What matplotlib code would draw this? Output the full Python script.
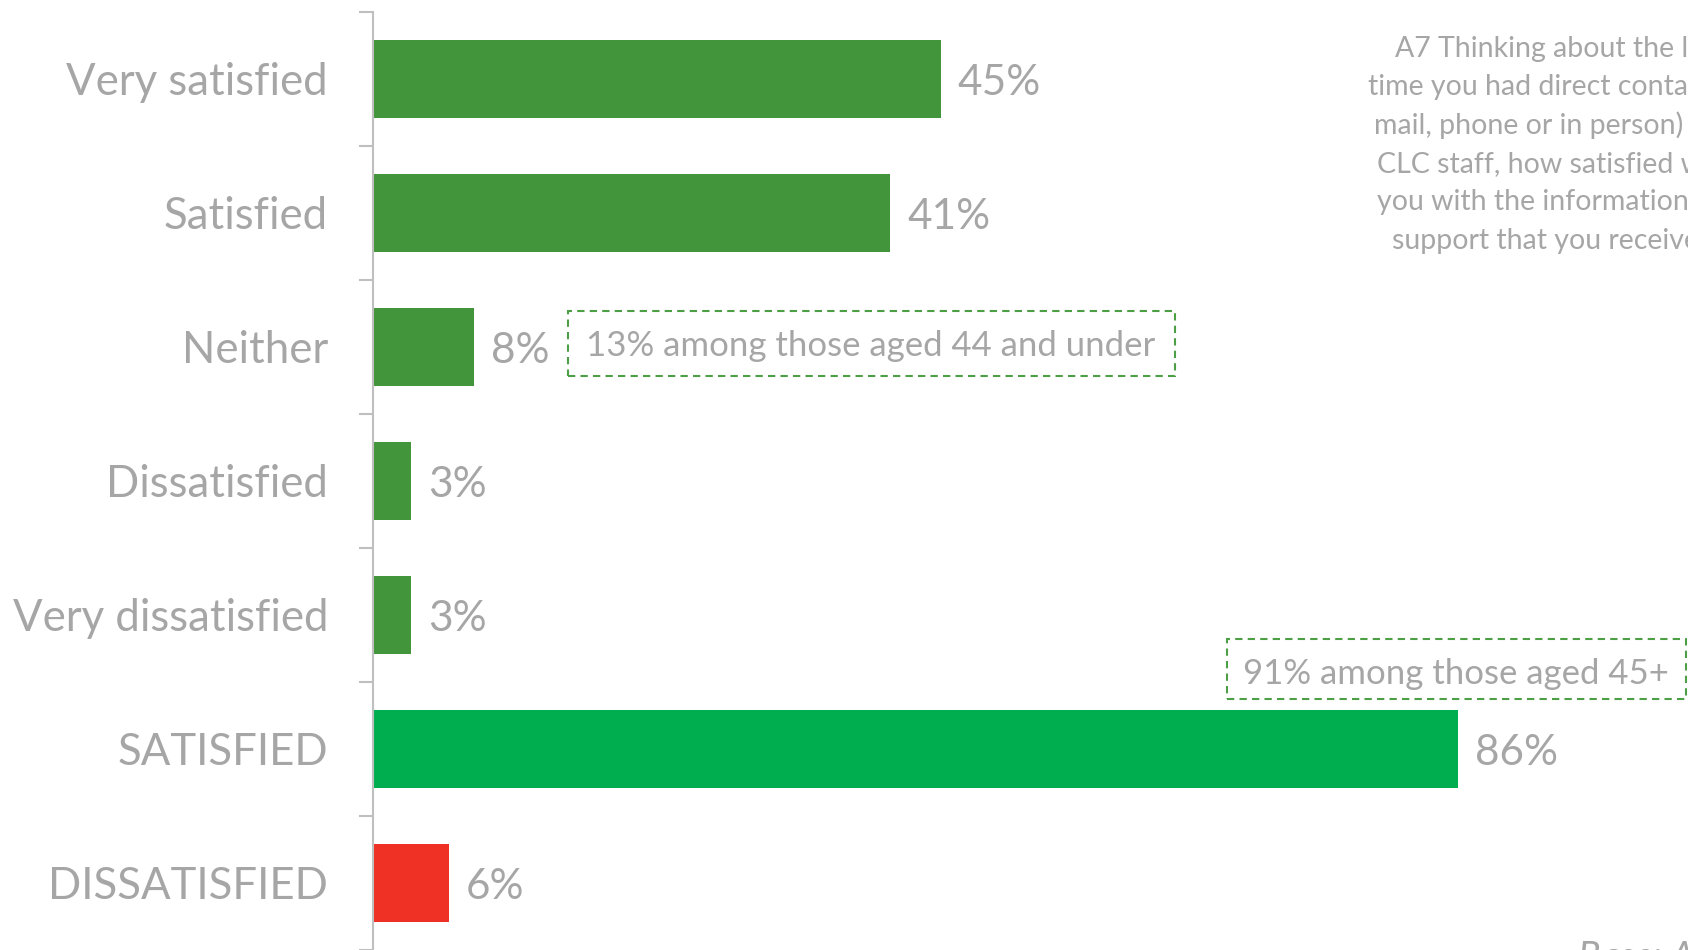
import matplotlib
matplotlib.use("Agg")
import matplotlib.pyplot as plt
import matplotlib.transforms as mtransforms
from matplotlib.patches import Rectangle

# datos del grafico
categorias = ["Very satisfied", "Satisfied", "Neither", "Dissatisfied",
              "Very dissatisfied", "SATISFIED", "DISSATISFIED"]
valores = [45, 41, 8, 3, 3, 86, 6]
etiquetas = ["45%", "41%", "8%", "3%", "3%", "86%", "6%"]
colores = ["#43953B", "#43953B", "#43953B", "#43953B", "#43953B", "#00AE50", "#EF3125"]

nota_1 = "13% among those aged 44 and under"
nota_2 = "91% among those aged 45+"
pregunta = ["A7 Thinking about the last",
            "time you had direct contact (e-",
            "mail, phone or in person) with",
            "CLC staff, how satisfied were",
            "you with the information and",
            "support that you received?"]
base = "Base: All respondents"

GRIS = "#A6A6A6"
VERDE_LINEA = "#4C9F44"
W, H = 1688, 950

plt.rcParams['font.family'] = ['Lato', 'DejaVu Sans']

fig = plt.figure(figsize=(W / 100.0, H / 100.0), dpi=100)
ax = fig.add_axes([373.0 / W, 0.0, 1 - 373.0 / W, 938.0 / H])

y = list(range(len(categorias)))
ax.barh(y, valores, height=0.58, color=colores)

ax.set_ylim(len(categorias) - 0.5, -0.5)
ax.set_xlim(0, 104.2)

for s in ["top", "right", "bottom"]:
  ax.spines[s].set_visible(False)
ax.spines["left"].set_color("#BFBFBF")
ax.spines["left"].set_linewidth(1.5)
ax.set_xticks([])
ax.set_yticks([i - 0.5 for i in range(len(categorias) + 1)])
ax.set_yticklabels([])
ax.tick_params(axis="y", length=10, width=1.5, color="#BFBFBF", direction="out")

trans = mtransforms.blended_transform_factory(ax.transAxes, ax.transData)
for i in y:
  ax.text(-0.0342, i + 0.12, categorias[i], transform=trans,
          ha="right", va="baseline", fontsize=31.5, color=GRIS)
  ax.text(valores[i] + 1.35, i + 0.12, etiquetas[i],
          ha="left", va="baseline", fontsize=30.5, color=GRIS)

# cajas punteadas
def caja(x0, y0, x1, y1):
  r = Rectangle((x0 / W, 1 - y1 / H), (x1 - x0) / W, (y1 - y0) / H,
                transform=fig.transFigure, fill=False, edgecolor=VERDE_LINEA,
                linewidth=1.5, linestyle=(0, (3.5, 2.5)), clip_on=False)
  fig.add_artist(r)

caja(568, 311, 1175, 376)
fig.text(871.0 / W, 1 - 356.0 / H, nota_1, ha="center", va="baseline",
         fontsize=25, color=GRIS)
caja(1227, 639, 1686, 699)
fig.text(1456.0 / W, 1 - 684.0 / H, nota_2, ha="center", va="baseline",
         fontsize=25, color=GRIS)

for k, linea in enumerate(pregunta):
  fig.text(1560.0 / W, 1 - (57.0 + 38.3 * k) / H, linea, ha="center",
           va="baseline", fontsize=20.5, color=GRIS)

fig.text(1578.0 / W, 1 - 969.0 / H, base, ha="left", va="baseline",
         fontsize=27, color=GRIS, style="italic")

fig.savefig("out.png", dpi=100)
